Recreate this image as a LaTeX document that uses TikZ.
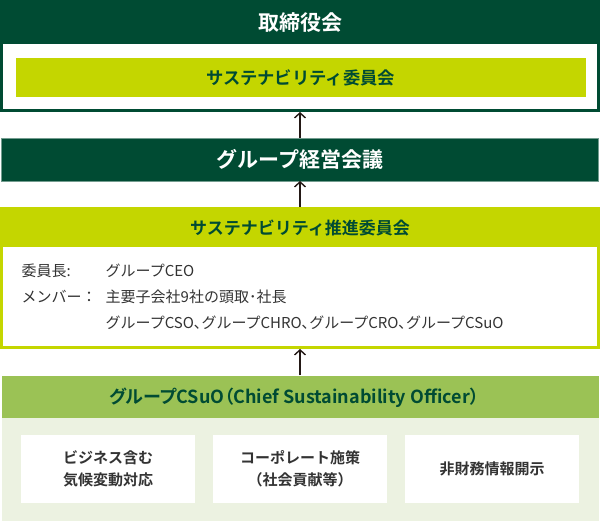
\documentclass[tikz,border=0pt]{standalone}
\usepackage{fontspec}
\setmainfont{Noto Sans CJK JP}[BoldFont={Noto Sans CJK JP Bold}]
\newfontfamily\paltfont{Noto Sans CJK JP}[BoldFont={Noto Sans CJK JP Bold},RawFeature=+palt]
\usetikzlibrary{arrows.meta}
\definecolor{dkgreen}{HTML}{004B33}
\definecolor{lime}{HTML}{C4D600}
\definecolor{midgreen}{HTML}{9BC255}
\definecolor{pale}{HTML}{ECF2E1}
\definecolor{ink}{HTML}{231815}
\definecolor{body}{HTML}{333333}
\tikzset{
  box/.style={inner sep=0pt, outer sep=0pt},
  arr/.style={draw=ink, line width=1.4pt, -{Straight Barb[length=5pt,width=11pt,line width=1.4pt]}},
  bodytext/.style={anchor=west, inner sep=0pt, font=\fontsize{15}{18}\selectfont, text=body},
  cell/.style={fill=white, inner sep=0pt, minimum width=174pt, minimum height=68pt, anchor=north west,
    align=center, font=\fontsize{15}{22}\selectfont\bfseries, text=body},
}
\begin{document}
\begin{tikzpicture}[x=1pt,y=-1pt]
\useasboundingbox (0,0) rectangle (600,521);
% Board
\fill[dkgreen] (0,0) rectangle (600,112);
\fill[white] (3,44) rectangle (597,109);
\node[box] (board) at (300,56) [minimum width=600pt, minimum height=112pt] {};
\node[box, text=white, font=\fontsize{21}{24}\selectfont\bfseries] (boardt) at (300,22.5) {取締役会};
\node[box, fill=lime, minimum width=570pt, minimum height=39pt, anchor=north west,
      text=dkgreen, font=\fontsize{17.3}{20}\selectfont\bfseries] (sc) at (15.5,58) {サステナビリティ委員会};
% Group management meeting
\node[box, fill=dkgreen, draw=dkgreen!55!white, line width=0.8pt, minimum width=597pt, minimum height=43pt,
      anchor=north west, text=white, font=\fontsize{21}{24}\selectfont\bfseries] (gm) at (1.5,138) {グループ経営会議};
% Sustainability promotion committee
\fill[lime] (0,207) rectangle (600,349);
\fill[white] (3,247) rectangle (597,346);
\node[box] (spc) at (300,278) [minimum width=600pt, minimum height=142pt] {};
\node[box, text=dkgreen, font=\fontsize{17}{20}\selectfont\bfseries] (spct) at (300,228) {サステナビリティ推進委員会};
\node[bodytext] (l1a) at (21.5,271) {委員長:};
\node[bodytext] (l1b) at (105.5,271) {グループCEO};
\node[bodytext] (l2a) at (21.5,297) {メンバー：};
\node[bodytext] (l2b) at (105.5,297) {主要子会社9社の頭取･社長};
\node[bodytext] (l3b) at (105.5,323) {グループCSO､グループCHRO､グループCRO､グループCSuO};
% CSuO
\fill[midgreen] (1.5,376) rectangle (598.5,418);
\fill[pale] (1.5,418) rectangle (598.5,521);
\node[box] (csuo) at (300,448) [minimum width=597pt, minimum height=145pt] {};
\node[box, text=dkgreen, font=\fontsize{18}{20}\paltfont\bfseries] (csuot) at (294,398) {グループCSuO（Chief Sustainability Officer）};
\node[cell] (c1) at (21,435) {ビジネス含む\\気候変動対応};
\node[cell] (c2) at (213,435) {コーポレート施策\\（社会貢献等）};
\node[cell] (c3) at (405,435) {非財務情報開示};
% arrows
\draw[arr] (gm.north) -- (board.south);
\draw[arr] (spc.north) -- (gm.south);
\draw[arr] (csuo.north) -- (spc.south);
\end{tikzpicture}
\end{document}
